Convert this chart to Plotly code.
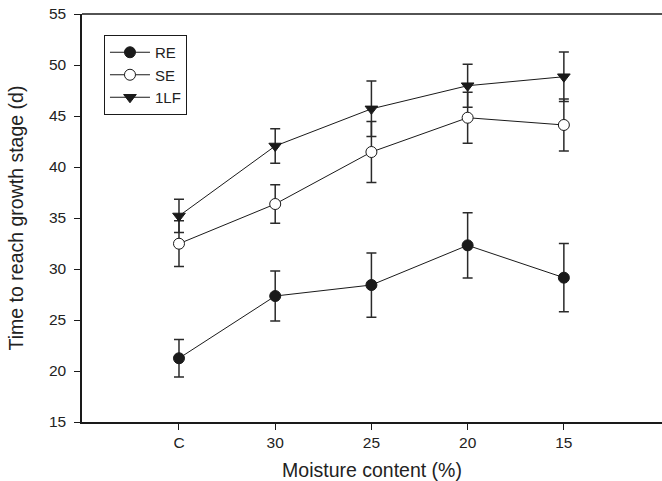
import plotly.graph_objects as go

categories = ["C", "30", "25", "20", "15"]
re_vals = [21.25, 27.35, 28.43, 32.32, 29.15]
re_err = [1.85, 2.45, 3.15, 3.2, 3.35]
se_vals = [32.48, 36.37, 41.47, 44.83, 44.12]
se_err = [2.24, 1.88, 2.98, 2.5, 2.55]
lf_vals = [35.2, 42.06, 45.7, 47.97, 48.85]
lf_err = [1.63, 1.7, 2.72, 2.1, 2.42]

xpos = list(range(len(categories)))
font_family = "Liberation Sans, Arial, sans-serif"
ink = "#1a1a1a"

fig = go.Figure()

def add(name, vals, errs, symbol, fill):
    fig.add_trace(go.Scatter(
        x=xpos, y=vals, name=name, mode="lines+markers",
        line=dict(color=ink, width=1),
        marker=dict(symbol=symbol, size=11, color=fill,
                    line=dict(color=ink, width=1)),
        error_y=dict(type="data", array=errs, visible=True,
                     color="#2a2a2a", thickness=1.5, width=5),
    ))

add("RE", re_vals, re_err, "circle", ink)
add("SE", se_vals, se_err, "circle", "white")
add("1LF", lf_vals, lf_err, "triangle-down", ink)

fig.update_layout(
    width=662, height=481,
    margin=dict(l=82, r=0, t=14, b=59),
    paper_bgcolor="white", plot_bgcolor="white",
    font=dict(family=font_family, size=15.5, color="#222"),
    showlegend=True,
    legend=dict(x=0.0379, y=0.9485, xanchor="left", yanchor="top",
                bordercolor=ink, borderwidth=1, bgcolor="white",
                font=dict(size=15), entrywidth=71, tracegroupgap=0,
                itemwidth=40),
    shapes=[dict(type="line", xref="paper", yref="paper", x0=0, x1=1.02,
                 y0=1, y1=1, line=dict(color=ink, width=1.5))],
)
fig.update_xaxes(
    range=[-1.008, 5.02], tickmode="array", tickvals=xpos, ticktext=categories,
    showgrid=False, zeroline=False, showline=True, linecolor=ink, linewidth=1.5,
    ticks="outside", ticklen=6, tickcolor=ink, tickfont=dict(size=15.5),
    mirror=False, automargin=False,
    title=dict(text="Moisture content (%)", font=dict(size=19.5), standoff=13),
)
fig.update_yaxes(
    range=[15, 55], tickvals=[15, 20, 25, 30, 35, 40, 45, 50, 55],
    showgrid=False, zeroline=False, showline=True, linecolor=ink, linewidth=1.5,
    ticks="outside", ticklen=6, tickcolor=ink, tickfont=dict(size=15.5),
    ticklabelstandoff=5,
    automargin=False, mirror=False,
    title=dict(text="Time to reach growth stage (d)", font=dict(size=19.5), standoff=20),
)

fig.write_html("out.html", config={"displayModeBar": False},
               post_script="document.body.style.margin='0';document.body.style.overflow='hidden';")
